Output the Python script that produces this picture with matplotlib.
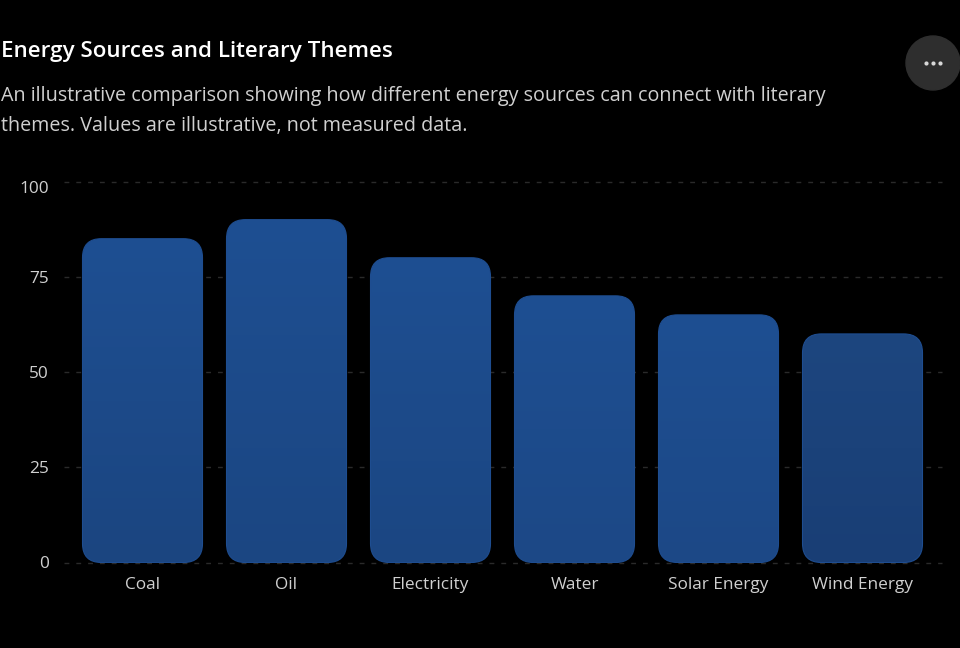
import numpy as np
import matplotlib
matplotlib.use('Agg')
import matplotlib.pyplot as plt
from matplotlib.colors import LinearSegmentedColormap
from matplotlib.patches import Circle, FancyBboxPatch
from matplotlib.transforms import ScaledTranslation

categories = ['Coal', 'Oil', 'Electricity', 'Water', 'Solar Energy', 'Wind Energy']
values = [85, 90, 80, 70, 65, 60]
y_ticks = [0, 25, 50, 75, 100]
top_colors = ['#1e4f92', '#1e4f92', '#1e4f92', '#1e4f92', '#1e4f92', '#1d467f']
bottom_colors = ['#1b4580', '#1b4682', '#1b4682', '#1c4886', '#1c4886', '#193e75']

W, H = 960, 648
plt.rcParams['font.family'] = ['Open Sans', 'DejaVu Sans']

fig = plt.figure(figsize=(W / 100, H / 100), dpi=100, facecolor='black')
ax = fig.add_axes([64 / W, 1 - 562.5 / H, (942 - 64) / W, (562.5 - 181.5) / H], facecolor='black')
ax.set_xlim((64 - 142.5) / 144, (942 - 142.5) / 144)
ax.set_ylim(0, 100)

for tick in y_ticks:
    ax.axhline(tick, color='#2a2a2a', lw=1, dashes=(3.5, 5), zorder=1, clip_on=False)

bar_width = 120 / 144
radius = 19 / 144
aspect = (100 / 381) / (1 / 144)  # data y units per x unit

for i, (val, top, bottom) in enumerate(zip(values, top_colors, bottom_colors)):
    x0 = i - bar_width / 2
    cmap = LinearSegmentedColormap.from_list(f'bar{i}', [bottom, top])
    img = ax.imshow(np.linspace(1, 0, 256).reshape(-1, 1), cmap=cmap, aspect='auto',
                    extent=(x0, x0 + bar_width, 0, val), zorder=2, vmin=0, vmax=1)
    box = FancyBboxPatch((x0, 0), bar_width, val, mutation_aspect=aspect,
                         boxstyle=f'round,pad=0,rounding_size={radius}',
                         facecolor='none', edgecolor='#1e4d90', lw=0.8, zorder=3)
    ax.add_patch(box)
    img.set_clip_path(box)

ax.set_xlim((64 - 142.5) / 144, (942 - 142.5) / 144)
ax.set_ylim(0, 100)
ax.set_xticks(range(len(categories)), categories)
ax.set_yticks(y_ticks)
ax.tick_params(length=0, labelsize=12.4, labelcolor='#d0d0d0')
ax.tick_params(axis='x', pad=10.5)
ax.tick_params(axis='y', pad=11)
for spine in ax.spines.values():
    spine.set_visible(False)

# top label sits lower than its gridline in the reference
top_label = ax.get_yticklabels()[-1]
top_label.set_transform(top_label.get_transform() + ScaledTranslation(0, -5.5 / 100, fig.dpi_scale_trans))

fig.text(1 / W, 1 - 52 / H, 'Energy Sources and Literary Themes', color='white',
         fontsize=16.1, fontweight='semibold', va='center')
fig.text(1 / W, 1 - 96 / H, 'An illustrative comparison showing how different energy sources can connect with literary',
         color='#d0d0d0', fontsize=14.25, va='center')
fig.text(1 / W, 1 - 126 / H, 'themes. Values are illustrative, not measured data.',
         color='#d0d0d0', fontsize=14.25, va='center')

# menu button in the top right corner
overlay = fig.add_axes([0, 0, 1, 1], facecolor='none')
overlay.set_xlim(0, W)
overlay.set_ylim(H, 0)
overlay.axis('off')
overlay.add_patch(Circle((933, 63), 27, color='#2e2e2e'))
overlay.scatter([926, 933, 940], [63, 63, 63], s=9, color='#d8d8d8', linewidths=0)

fig.savefig('out.png', dpi=100, facecolor='black')
